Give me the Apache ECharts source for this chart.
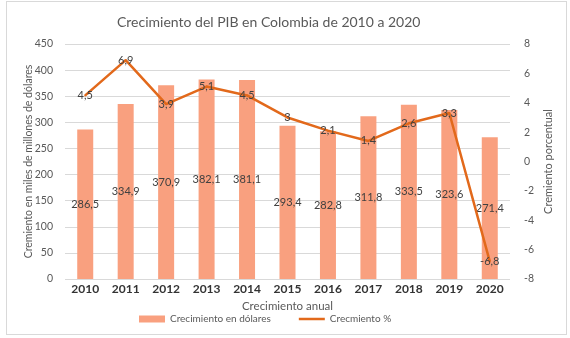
<!DOCTYPE html>
<html>
<head>
<meta charset="utf-8">
<script src="https://cdn.jsdelivr.net/npm/echarts@6/dist/echarts.min.js"></script>
<style>
html,body{margin:0;padding:0;background:#fff;}
#frame{position:absolute;left:6px;top:1px;width:561px;height:334px;border:1px solid #d9d9d9;box-sizing:border-box;}
#c{position:absolute;left:0;top:0;width:570px;height:338px;}
</style>
</head>
<body>
<div id="frame"></div>
<div id="c"></div>
<script>
const years = ['2010','2011','2012','2013','2014','2015','2016','2017','2018','2019','2020'];
const usdValues = [286.5, 334.9, 370.9, 382.1, 381.1, 293.4, 282.8, 311.8, 333.5, 323.6, 271.4];
const pctValues = [4.5, 6.9, 3.9, 5.1, 4.5, 3, 2.1, 1.4, 2.6, 3.3, -6.8];

const fmt = p => String(p.value).replace('.', ',');
const font = 'Lato, "Open Sans", sans-serif';
const chart = echarts.init(document.getElementById('c'));
chart.setOption({
  animation: false,
  textStyle: {fontFamily: font},
  title: {
    text: 'Crecimiento del PIB en Colombia de 2010 a 2020',
    left: 112, top: 10,
    textStyle: {fontFamily: font, fontSize: 14, fontWeight: 'normal', color: '#595959'}
  },
  legend: {
    bottom: 9, left: 134, itemGap: 28,
    itemWidth: 26, itemHeight: 7,
    textStyle: {fontFamily: font, fontSize: 10, color: '#595959'},
    data: [
      {name: 'Crecimiento en dólares', icon: 'rect'},
      {name: 'Crecmiento %', icon: 'path://M0,0 H26 V2.5 H0 Z'}
    ]
  },
  grid: {left: 65, right: 60, top: 44, bottom: 59},
  xAxis: {
    type: 'category', data: years,
    name: 'Crecimiento anual', nameLocation: 'middle', nameGap: 20,
    nameTextStyle: {fontFamily: font, fontSize: 11.5, color: '#595959'},
    axisLine: {show: false}, axisTick: {show: false},
    axisLabel: {fontFamily: font, fontSize: 12, fontWeight: 'bold', color: '#333', margin: 4}
  },
  yAxis: [
    {
      type: 'value', min: 0, max: 450, interval: 50,
      name: 'Cremiento en miles de millones de dólares', nameLocation: 'middle', nameGap: 31,
      nameMoveOverlap: false,
      nameTextStyle: {fontFamily: font, fontSize: 10.5, color: '#595959'},
      axisLabel: {fontFamily: font, fontSize: 10.5, color: '#595959', margin: 12},
      splitLine: {lineStyle: {color: '#d9d9d9'}},
      axisLine: {show: false}, axisTick: {show: false}
    },
    {
      type: 'value', min: -8, max: 8, interval: 2,
      name: 'Cremiento porcentual', nameLocation: 'middle', nameGap: 33,
      nameMoveOverlap: false,
      nameTextStyle: {fontFamily: font, fontSize: 11, color: '#595959'},
      axisLabel: {fontFamily: font, fontSize: 10.5, color: '#595959', margin: 14},
      splitLine: {show: false},
      axisLine: {show: false}, axisTick: {show: false}
    }
  ],
  series: [
    {
      name: 'Crecimiento en dólares', type: 'bar', data: usdValues,
      barWidth: 16, yAxisIndex: 0,
      itemStyle: {color: '#F9A07F'},
      label: {show: true, position: 'inside', formatter: fmt,
        fontFamily: font, fontSize: 11, color: '#404040'}
    },
    {
      name: 'Crecmiento %', type: 'line', data: pctValues, yAxisIndex: 1,
      symbol: 'circle', symbolSize: 2, showSymbol: true,
      lineStyle: {color: '#E2691B', width: 2.5},
      itemStyle: {color: '#E2691B'},
      label: {show: true, position: 'inside', formatter: fmt,
        fontFamily: font, fontSize: 11, color: '#404040'}
    }
  ]
});
</script>
</body>
</html>
